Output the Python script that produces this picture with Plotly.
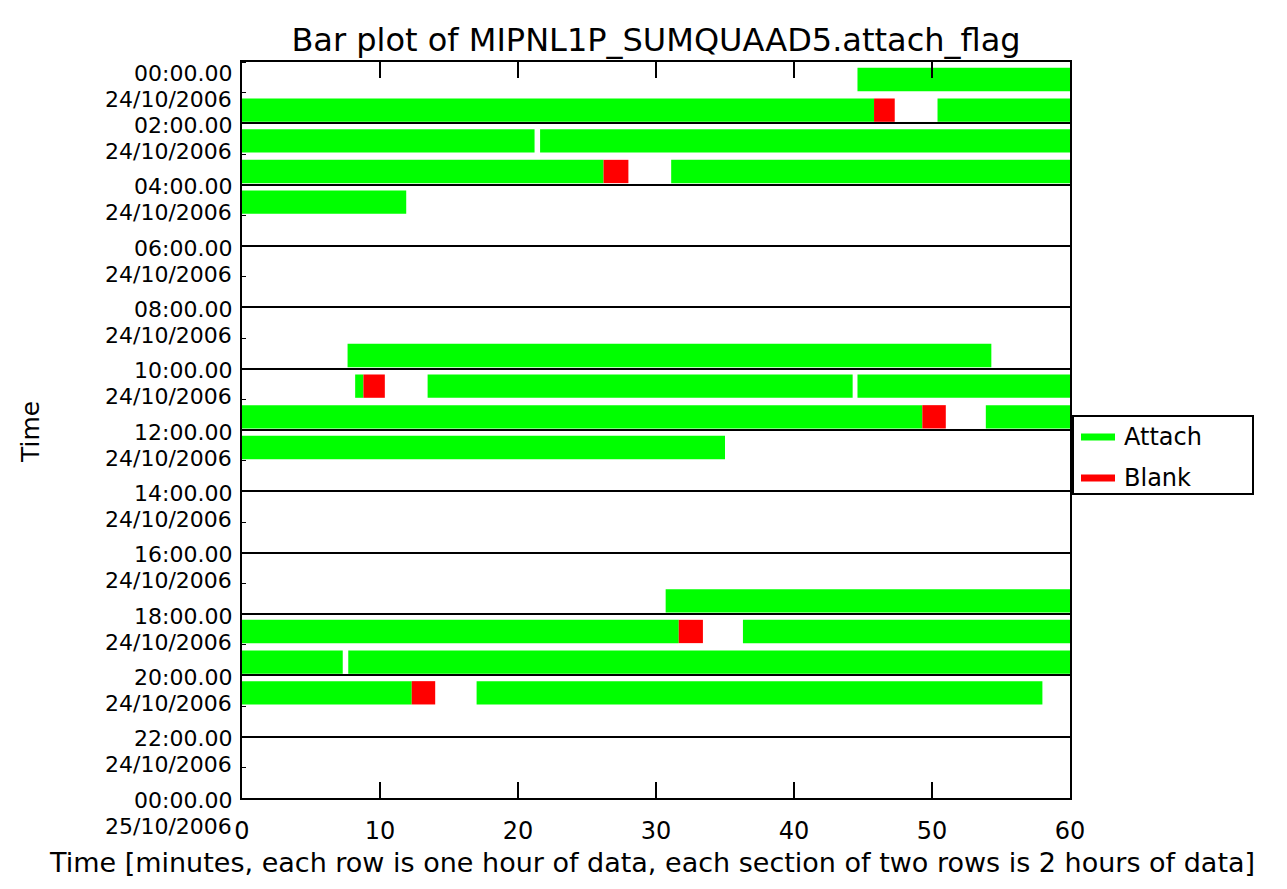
import plotly.graph_objects as go

# Each segment: hour row (0 = 00:00-01:00 on 24/10/2006), start minute, end minute
attach_hour = [0, 1, 1, 2, 2, 3, 3, 4, 9, 10, 10, 10, 11, 11, 12, 17, 18, 18, 19, 19, 20, 20]
attach_start = [44.6, 0, 50.4, 0, 21.6, 0, 31.1, 0, 7.65, 8.2, 13.45, 44.6, 0, 53.9, 0,
                30.7, 0, 36.3, 0, 7.7, 0, 17.0]
attach_end = [60, 45.8, 60, 21.2, 60, 26.2, 60, 11.9, 54.3, 8.8, 44.25, 60, 49.3, 60, 35.0,
              60, 31.65, 60, 7.3, 60, 12.3, 58.0]

blank_hour = [1, 3, 10, 11, 18, 20]
blank_start = [45.8, 26.2, 8.8, 49.3, 31.65, 12.3]
blank_end = [47.3, 28.0, 10.35, 51.0, 33.4, 14.0]

# Row labels at every two-hour section boundary
time_labels = ["00:00.00", "02:00.00", "04:00.00", "06:00.00", "08:00.00", "10:00.00",
               "12:00.00", "14:00.00", "16:00.00", "18:00.00", "20:00.00", "22:00.00",
               "00:00.00"]
date_labels = ["24/10/2006"] * 12 + ["25/10/2006"]
boundary_hours = list(range(0, 25, 2))
minute_ticks = [0, 10, 20, 30, 40, 50, 60]

series_names = ["Attach", "Blank"]
GREEN = "#00ff00"
RED = "#ff0000"
FONT = "DejaVu Sans"

ROW_OFFSET = 0.57
ROW_WIDTH = 0.76

W, H = 1287, 889
L, R, T, B = 242, 217, 62, 91
plot_h = H - T - B
plot_w = W - L - R


def px_x(px):
    """Horizontal pixel position -> paper fraction."""
    return (px - L) / plot_w


def px_y(py):
    """Vertical pixel position (from top) -> paper fraction."""
    return (H - B - py) / plot_h


fig = go.Figure()


def add_segments(hours, starts, ends, color, name):
    fig.add_trace(go.Bar(
        orientation="h",
        y=[h + ROW_OFFSET for h in hours],
        base=starts,
        x=[e - s for s, e in zip(starts, ends)],
        width=ROW_WIDTH,
        marker=dict(color=color, line=dict(width=0)),
        name=name,
        showlegend=False,
        hoverinfo="skip",
    ))


add_segments(attach_hour, attach_start, attach_end, GREEN, series_names[0])
add_segments(blank_hour, blank_start, blank_end, RED, series_names[1])

annotations = []
for i, (hr, tl, dl) in enumerate(zip(boundary_hours, time_labels, date_labels)):
    shift = -11 if i == 0 else -2
    annotations.append(dict(
        x=0, xref="paper", y=hr, yref="y", text=tl, showarrow=False,
        xanchor="right", yanchor="middle", xshift=-8, yshift=shift,
        font=dict(family=FONT, size=22, color="black"),
    ))
    annotations.append(dict(
        x=0, xref="paper", y=hr, yref="y", text=dl, showarrow=False,
        xanchor="right", yanchor="middle", xshift=-8, yshift=shift - 26,
        font=dict(family=FONT, size=22, color="black"),
    ))

annotations.append(dict(
    x=px_x(30), xref="paper", y=px_y(432), yref="paper", text="Time",
    textangle=-90, showarrow=False, xanchor="center", yanchor="middle",
    font=dict(family=FONT, size=25, color="black"),
))
annotations.append(dict(
    x=px_x(652), xref="paper", y=px_y(862), yref="paper",
    text="Time [minutes, each row is one hour of data, each section of two rows is 2 hours of data]",
    showarrow=False, xanchor="center", yanchor="middle",
    font=dict(family=FONT, size=27, color="black"),
))

# Legend box with short thick strokes as samples
shapes = [dict(
    type="rect", xref="paper", yref="paper",
    x0=px_x(1073), x1=px_x(1253), y0=px_y(494), y1=px_y(416),
    line=dict(color="black", width=2), fillcolor="white", layer="above",
)]
for name, color, cy in zip(series_names, [GREEN, RED], [437, 478]):
    shapes.append(dict(
        type="line", xref="paper", yref="paper",
        x0=px_x(1081), x1=px_x(1115), y0=px_y(cy), y1=px_y(cy),
        line=dict(color=color, width=7), layer="above",
    ))
    annotations.append(dict(
        x=px_x(1122), xref="paper", y=px_y(cy), yref="paper", text=name,
        showarrow=False, xanchor="left", yanchor="middle",
        font=dict(family=FONT, size=24, color="black"),
    ))

fig.update_layout(
    width=W, height=H,
    margin=dict(l=L, r=R, t=T, b=B, pad=0),
    paper_bgcolor="white", plot_bgcolor="white",
    barmode="overlay",
    showlegend=False,
    title=dict(
        text="Bar plot of MIPNL1P_SUMQUAAD5.attach_flag",
        x=(L + plot_w / 2) / W, xanchor="center",
        y=1 - 40 / H, yref="container", yanchor="middle",
        font=dict(family=FONT, size=32, color="black"),
    ),
    xaxis=dict(
        range=[0, 60], tickvals=minute_ticks,
        ticks="inside", ticklen=16, tickwidth=2, tickcolor="black",
        showline=True, linecolor="black", linewidth=2, mirror="ticks",
        showgrid=False, zeroline=False,
        tickfont=dict(family=FONT, size=24, color="black"),
        ticklabelstandoff=10,
    ),
    yaxis=dict(
        range=[24, 0], tickvals=boundary_hours, showticklabels=False,
        ticks="", showline=True, linecolor="black", linewidth=2, mirror=True,
        showgrid=True, gridcolor="black", gridwidth=2, zeroline=False,
        minor=dict(dtick=1, tick0=0, ticks="inside", ticklen=4, tickcolor="black",
                   showgrid=False),
    ),
    shapes=shapes,
    annotations=annotations,
)

fig.write_html("out.html")
